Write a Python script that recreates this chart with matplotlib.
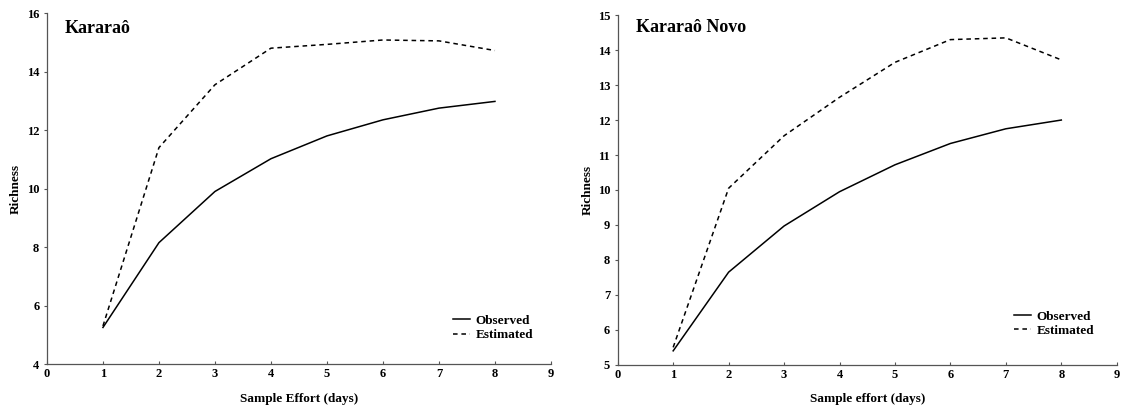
import matplotlib
matplotlib.use('Agg')
import matplotlib.pyplot as plt

days = [1, 2, 3, 4, 5, 6, 7, 8]

# Kararaô
obs_k = [5.25, 8.15, 9.9, 11.02, 11.8, 12.35, 12.75, 12.98]
est_k = [5.3, 11.4, 13.55, 14.8, 14.93, 15.08, 15.05, 14.72]

# Kararaô Novo
obs_kn = [5.4, 7.65, 8.97, 9.95, 10.72, 11.33, 11.75, 12.0]
est_kn = [5.5, 10.05, 11.55, 12.65, 13.65, 14.3, 14.35, 13.72]

plt.rcParams['font.family'] = ['Liberation Serif', 'DejaVu Serif']
plt.rcParams['font.weight'] = 'bold'

fig = plt.figure(figsize=(11.26, 4.09), dpi=100)
ax1 = fig.add_axes([0.0417, 0.110, 0.4476, 0.858])
ax2 = fig.add_axes([0.5486, 0.108, 0.4432, 0.855])


def style(ax, obs, est, title, ylim, yticks, xlabel, title_y, leg_anchor, ypad):
    ax.plot(days, obs, color='black', lw=1.1, label='Observed')
    ax.plot(days, est, color='black', lw=1.1, ls=(0, (3, 2.5)), label='Estimated')
    ax.set_xlim(0, 9)
    ax.set_ylim(*ylim)
    ax.set_xticks(range(0, 10))
    ax.set_yticks(yticks)
    for s in ['top', 'right']:
        ax.spines[s].set_visible(False)
    for s in ['left', 'bottom']:
        ax.spines[s].set_color('#555555')
        ax.spines[s].set_linewidth(0.9)
    ax.tick_params(axis='x', direction='in', length=2.5, width=0.8, color='#555555',
                   labelsize=9, pad=3)
    ax.tick_params(axis='y', direction='out', length=2.5, width=0.8, color='#555555',
                   labelsize=9, pad=3)
    for lab in ax.get_xticklabels() + ax.get_yticklabels():
        lab.set_fontweight('bold')
    ax.set_xlabel(xlabel, fontsize=9.5, fontweight='bold', labelpad=9)
    ax.set_ylabel('Richness', fontsize=9.5, fontweight='bold', labelpad=ypad)
    ax.text(0.036, title_y, title, transform=ax.transAxes, fontsize=13,
            fontweight='bold', va='baseline', ha='left')
    ax.legend(loc='lower right', bbox_to_anchor=leg_anchor, frameon=False,
              prop={'size': 9.5, 'weight': 'bold'}, handlelength=1.3,
              handletextpad=0.4, labelspacing=0.15)


style(ax1, obs_k, est_k, 'Kararaô', (4, 16), range(4, 17, 2),
      'Sample Effort (days)', 0.943, (0.988, 0.031), 4)
style(ax2, obs_kn, est_kn, 'Kararaô Novo', (5, 15), range(5, 16),
      'Sample effort (days)', 0.951, (0.978, 0.046), 3)

fig.savefig('out.png', dpi=100)
